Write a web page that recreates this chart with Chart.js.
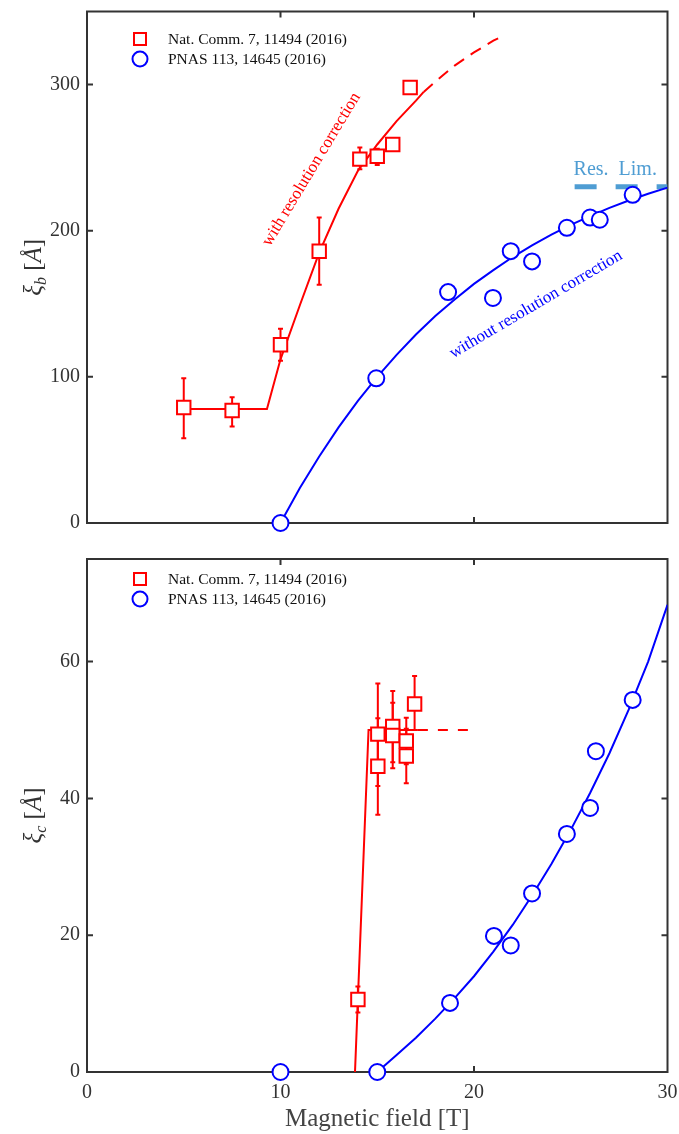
<!DOCTYPE html>
<html>
<head>
<meta charset="utf-8">
<script src="https://cdn.jsdelivr.net/npm/chart.js@4.4.1/dist/chart.umd.min.js"></script>
<style>
    body { margin: 0; background: #fff; }
    #wrap { position: relative; width: 679px; height: 1134px; }
    canvas { position: absolute; left: 0; }
    #top-canvas { top: 0; }
    #bottom-canvas { top: 540px; }
</style>
</head>
<body>
<div id="wrap">
    <canvas id="top-canvas" width="679" height="540"></canvas>
    <canvas id="bottom-canvas" width="679" height="594"></canvas>
</div>
<script>
// ---- top panel (xi_b) ----
const redTopX = [5, 7.5, 10, 12, 14.1, 15, 15.8, 16.7];
const redTopY = [79, 77, 122, 186, 249, 251, 259, 298];
const redTopLo = [58, 66, 111, 163, 242, 245, null, null];
const redTopHi = [99, 86, 133, 209, 257, 256, null, null];

const blueTopX = [10, 14.95, 18.66, 20.98, 21.9, 23.0, 24.8, 26.0, 26.5, 28.2];
const blueTopY = [0, 99, 158, 154, 186, 179, 202, 209, 207.5, 224.6];

const redFitTopX = [5, 9.3, 10, 11, 12, 13, 14, 15, 16, 17, 17.4];
const redFitTopY = [78, 78, 112, 149, 185, 215, 241, 259, 275, 289, 295];
const redDashTopX = [17.4, 18, 19, 20, 21, 21.3];
const redDashTopY = [295, 302, 313, 322, 330, 332];

const blueFitTopX = [10, 11, 12, 13, 14, 15, 16, 17, 18, 19, 20, 21, 22, 23, 24, 25, 26, 27, 28, 29, 30];
const blueFitTopY = [0, 24, 45.5, 65.4, 83.5, 100, 115, 129, 141.6, 153, 163.6, 173, 182, 190, 197.3, 204, 210, 215.6, 220.7, 225.3, 229.5];

const resLimX = [25.2, 30];
const resLimY = [230, 230];

// ---- bottom panel (xi_c) ----
const redBotX = [14, 15.03, 15.03, 15.8, 15.8, 16.5, 16.5, 16.93];
const redBotY = [10.6, 49.4, 44.7, 50.5, 49.2, 48.4, 46.2, 53.8];
const redBotLo = [8.7, 41.8, 37.6, 45.3, 44.4, 45.0, 42.2, 50.0];
const redBotHi = [12.5, 56.8, 51.7, 55.7, 54.0, 51.8, 50.2, 57.9];

const blueBotX = [10, 15, 18.76, 21.03, 21.9, 23.0, 24.8, 26.0, 26.3, 28.2];
const blueBotY = [0, 0, 10.1, 19.9, 18.5, 26.1, 34.8, 38.6, 46.9, 54.4];

const redFitBotX = [13.85, 14.55, 17.1];
const redFitBotY = [0, 50, 50];
const redDashBotX = [17.1, 20.2];
const redDashBotY = [50, 50];

const blueFitBotX = [15, 16, 17, 18, 19, 20, 21, 22, 23, 24, 25, 26, 27, 28, 29, 30];
const blueFitBotY = [0, 2.5, 5.0, 7.8, 10.8, 14.0, 17.6, 21.5, 25.8, 30.4, 35.4, 40.8, 46.6, 53.0, 60.0, 68.3];

const xTicks = [0, 10, 20, 30];
const legendLabels = ['Nat. Comm. 7, 11494 (2016)', 'PNAS 113, 14645 (2016)'];

const RED = '#ff0000';
const BLUE = '#0000ff';
const RESLIM = '#4f9dd3';
const AXIS = '#333333';
const SERIF = '"Liberation Serif", "Times New Roman", serif';

function pts(xs, ys) {
    return xs.map((x, i) => ({ x: x, y: ys[i] }));
}

function markerSet(xs, ys, color, style, radius) {
    return {
        data: pts(xs, ys),
        showLine: false,
        pointStyle: style,
        pointRadius: radius,
        pointHoverRadius: radius,
        pointBorderWidth: 2,
        pointBorderColor: color,
        pointBackgroundColor: '#ffffff',
        clip: false
    };
}

function lineSet(xs, ys, color, width, dash) {
    return {
        data: pts(xs, ys),
        showLine: true,
        borderColor: color,
        borderWidth: width,
        borderDash: dash || [],
        pointRadius: 0,
        tension: 0,
        fill: false
    };
}

// no extra room for end labels, the chart area is placed by the layout padding
function noPadding(scale) {
    scale.paddingTop = 0;
    scale.paddingBottom = 0;
    scale.paddingLeft = 0;
    scale.paddingRight = 0;
}

const framePlugin = {
    id: 'frame',
    beforeDatasetsDraw(chart) {
        const ctx = chart.ctx;
        const a = chart.chartArea;
        const xs = chart.scales.x;
        const ys = chart.scales.y;
        ctx.save();
        ctx.strokeStyle = AXIS;
        ctx.lineWidth = 2;
        ctx.strokeRect(a.left, a.top, a.right - a.left, a.bottom - a.top);
        ctx.beginPath();
        xs.ticks.forEach(t => {
            const px = xs.getPixelForValue(t.value);
            if (px <= a.left + 1 || px >= a.right - 1) return;
            ctx.moveTo(px, a.bottom);
            ctx.lineTo(px, a.bottom - 6);
            ctx.moveTo(px, a.top);
            ctx.lineTo(px, a.top + 6);
        });
        ys.ticks.forEach(t => {
            const py = ys.getPixelForValue(t.value);
            if (py >= a.bottom - 1 || py <= a.top + 1) return;
            ctx.moveTo(a.left, py);
            ctx.lineTo(a.left + 6, py);
            ctx.moveTo(a.right, py);
            ctx.lineTo(a.right - 6, py);
        });
        ctx.stroke();
        ctx.restore();
    }
};

const errorBarPlugin = {
    id: 'errorBars',
    beforeDatasetsDraw(chart, args, opts) {
        const ctx = chart.ctx;
        const xs = chart.scales.x;
        const ys = chart.scales.y;
        ctx.save();
        ctx.strokeStyle = RED;
        ctx.lineWidth = 2;
        opts.x.forEach((x, i) => {
            if (opts.lo[i] === null) return;
            const px = xs.getPixelForValue(x);
            const p1 = ys.getPixelForValue(opts.lo[i]);
            const p2 = ys.getPixelForValue(opts.hi[i]);
            ctx.beginPath();
            ctx.moveTo(px, p1);
            ctx.lineTo(px, p2);
            ctx.moveTo(px - 2.5, p1);
            ctx.lineTo(px + 2.5, p1);
            ctx.moveTo(px - 2.5, p2);
            ctx.lineTo(px + 2.5, p2);
            ctx.stroke();
        });
        ctx.restore();
    }
};

function drawYTitle(ctx, cx, cy, sub) {
    ctx.save();
    ctx.translate(cx, cy);
    ctx.rotate(-Math.PI / 2);
    ctx.fillStyle = AXIS;
    ctx.textBaseline = 'alphabetic';
    const big = 'italic 25px ' + SERIF;
    const small = 'italic 16px ' + SERIF;
    const norm = '25px ' + SERIF;
    const parts = [
        { t: '\u03BE', f: big, dy: 0 },
        { t: sub, f: small, dy: 5 },
        { t: ' [', f: norm, dy: 0 },
        { t: '\u00C5', f: big, dy: 0 },
        { t: ']', f: norm, dy: 0 }
    ];
    let total = 0;
    parts.forEach(p => { ctx.font = p.f; p.w = ctx.measureText(p.t).width; total += p.w; });
    let x = -total / 2;
    parts.forEach(p => {
        ctx.font = p.f;
        ctx.fillText(p.t, x, 8 + p.dy);
        x += p.w;
    });
    ctx.restore();
}

function drawLegend(ctx) {
    ctx.save();
    ctx.lineWidth = 2;
    ctx.strokeStyle = RED;
    ctx.fillStyle = '#ffffff';
    ctx.fillRect(134, 33, 12, 12);
    ctx.strokeRect(134, 33, 12, 12);
    ctx.strokeStyle = BLUE;
    ctx.beginPath();
    ctx.arc(140, 59, 7.5, 0, Math.PI * 2);
    ctx.stroke();
    ctx.fillStyle = '#111111';
    ctx.font = '15.5px ' + SERIF;
    ctx.textBaseline = 'middle';
    ctx.fillText(legendLabels[0], 168, 40);
    ctx.fillText(legendLabels[1], 168, 60);
    ctx.restore();
}

function rotatedText(ctx, text, px, py, angle, color, size) {
    ctx.save();
    ctx.translate(px, py);
    ctx.rotate(angle);
    ctx.fillStyle = color;
    ctx.font = size + 'px ' + SERIF;
    ctx.textAlign = 'center';
    ctx.textBaseline = 'middle';
    ctx.fillText(text, 0, 0);
    ctx.restore();
}

const topDecor = {
    id: 'topDecor',
    afterDraw(chart) {
        const ctx = chart.ctx;
        const xs = chart.scales.x;
        const ys = chart.scales.y;
        drawYTitle(ctx, 33, (chart.chartArea.top + chart.chartArea.bottom) / 2, 'b');
        drawLegend(ctx);
        rotatedText(ctx, 'with resolution correction', xs.getPixelForValue(11.6), ys.getPixelForValue(242),
            -59 * Math.PI / 180, RED, 17);
        rotatedText(ctx, 'without resolution correction', xs.getPixelForValue(23.2), ys.getPixelForValue(149.5),
            -30.5 * Math.PI / 180, BLUE, 17);
        rotatedText(ctx, 'Res.  Lim.', xs.getPixelForValue(27.3), ys.getPixelForValue(242), 0, RESLIM, 20);
    }
};

const bottomDecor = {
    id: 'bottomDecor',
    afterDraw(chart) {
        const ctx = chart.ctx;
        drawYTitle(ctx, 33, (chart.chartArea.top + chart.chartArea.bottom) / 2, 'c');
        drawLegend(ctx);
    }
};

function makeOptions(yMax, yStep, showX, padTop, xHeight, errs) {
    return {
        responsive: false,
        animation: false,
        events: [],
        layout: { padding: { top: padTop, right: 10, left: 0, bottom: 0 } },
        plugins: {
            legend: { display: false },
            tooltip: { enabled: false },
            errorBars: errs
        },
        scales: {
            x: {
                type: 'linear',
                min: 0,
                max: 30,
                afterBuildTicks: scale => { scale.ticks = xTicks.map(v => ({ value: v })); },
                afterFit: scale => { scale.height = xHeight; noPadding(scale); },
                grid: { display: false, drawTicks: false },
                border: { display: false },
                ticks: {
                    display: showX,
                    padding: 9,
                    color: AXIS,
                    font: { family: SERIF, size: 20 },
                    maxRotation: 0
                },
                title: {
                    display: showX,
                    text: 'Magnetic field [T]',
                    color: '#444444',
                    font: { family: SERIF, size: 25 },
                    padding: { top: 0, bottom: 0 }
                }
            },
            y: {
                type: 'linear',
                min: 0,
                max: yMax,
                afterFit: scale => { scale.width = 87; noPadding(scale); },
                grid: { display: false, drawTicks: false },
                border: { display: false },
                ticks: {
                    stepSize: yStep,
                    includeBounds: false,
                    padding: 7,
                    color: AXIS,
                    font: { family: SERIF, size: 20 }
                }
            }
        }
    };
}

new Chart(document.getElementById('top-canvas').getContext('2d'), {
    type: 'scatter',
    data: {
        datasets: [
            markerSet(redTopX, redTopY, RED, 'rect', 9.5),
            markerSet(blueTopX, blueTopY, BLUE, 'circle', 8),
            lineSet(redFitTopX, redFitTopY, RED, 2),
            lineSet(redDashTopX, redDashTopY, RED, 2, [12, 8]),
            lineSet(blueFitTopX, blueFitTopY, BLUE, 2),
            lineSet(resLimX, resLimY, RESLIM, 5, [22, 19])
        ]
    },
    options: makeOptions(350, 100, false, 10, 17, { x: redTopX, lo: redTopLo, hi: redTopHi }),
    plugins: [framePlugin, errorBarPlugin, topDecor]
});

new Chart(document.getElementById('bottom-canvas').getContext('2d'), {
    type: 'scatter',
    data: {
        datasets: [
            markerSet(redBotX, redBotY, RED, 'rect', 9.5),
            markerSet(blueBotX, blueBotY, BLUE, 'circle', 8),
            lineSet(redFitBotX, redFitBotY, RED, 2),
            lineSet(redDashBotX, redDashBotY, RED, 2, [10, 10]),
            lineSet(blueFitBotX, blueFitBotY, BLUE, 2)
        ]
    },
    options: makeOptions(75, 20, true, 19, 62, { x: redBotX, lo: redBotLo, hi: redBotHi }),
    plugins: [framePlugin, errorBarPlugin, bottomDecor]
});
</script>
</body>
</html>
